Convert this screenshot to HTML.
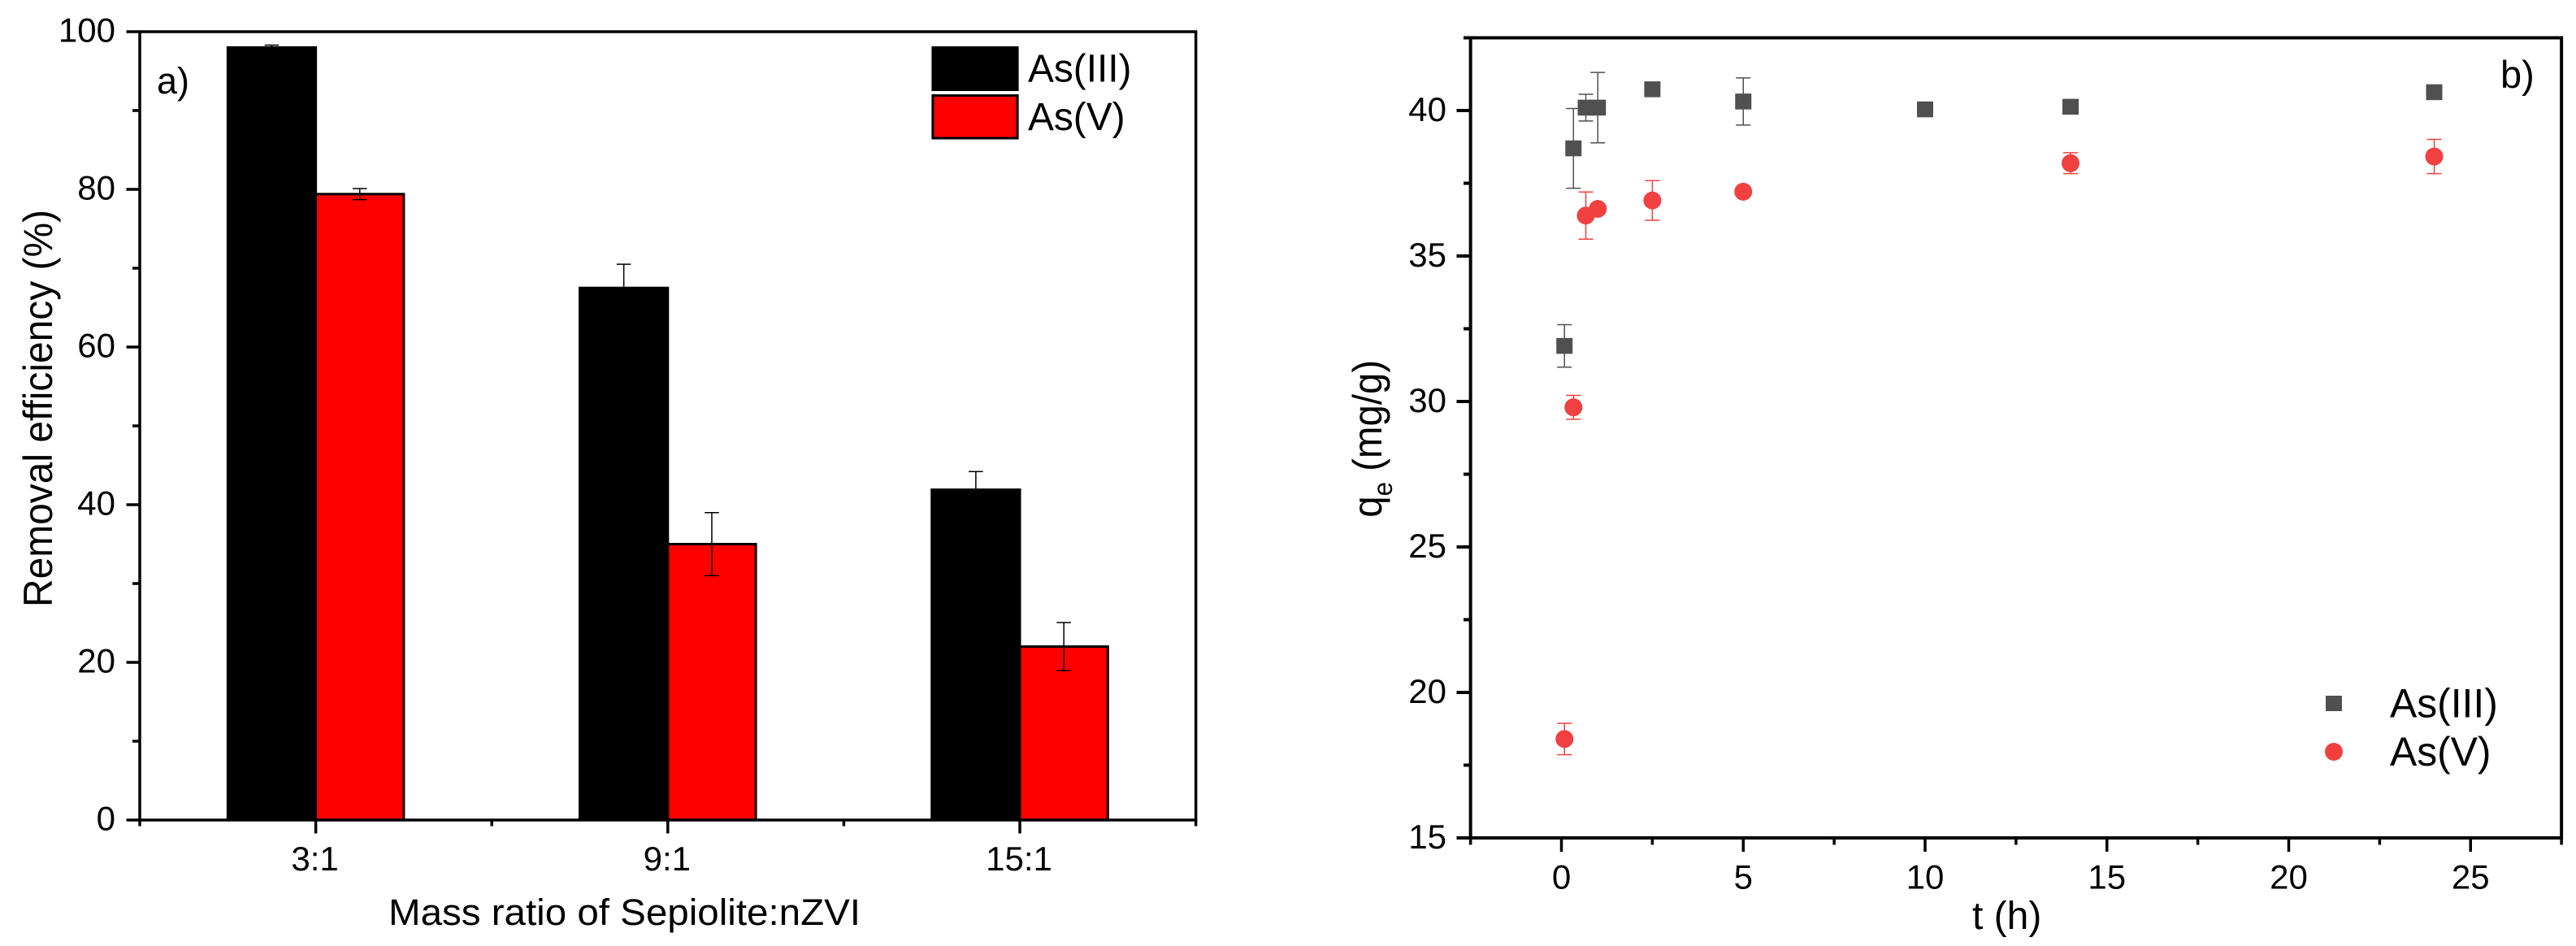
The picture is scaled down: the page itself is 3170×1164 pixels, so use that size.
<!DOCTYPE html>
<html lang="en">
<head>
<meta charset="utf-8">
<title>Arsenic removal charts</title>
<style>
html,body{margin:0;padding:0;background:#fff;}
svg{display:block;}
text{font-family:"Liberation Sans",sans-serif;fill:#000;}
</style>
</head>
<body>
<svg id="figure" xmlns="http://www.w3.org/2000/svg" width="3170" height="1164" viewBox="0 0 3170 1164">
  <rect x="0" y="0" width="3170" height="1164" fill="#fff"/>
  <g id="panelA"></g>
  <g id="panelB"></g>

  <text x="193" y="115" font-size="45">a)</text>
  <text transform="translate(64,747) rotate(-90)" font-size="50" textLength="489" lengthAdjust="spacingAndGlyphs">Removal efficiency (%)</text>
  <text x="478" y="1138" font-size="45" textLength="581" lengthAdjust="spacingAndGlyphs">Mass ratio of Sepiolite:nZVI</text>

  <g>
    <rect x="1147.9" y="58.5" width="104.2" height="52" fill="#000" stroke="#000" stroke-width="3"/>
    <rect x="1147.9" y="117.5" width="104.2" height="52.5" fill="#f00" stroke="#000" stroke-width="3"/>
    <text x="1265" y="100.5" font-size="47.8">As(III)</text>
    <text x="1265" y="160" font-size="47.8">As(V)</text>
  </g>

  <text x="3077" y="108" font-size="47">b)</text>
  <text transform="translate(1700,636.7) rotate(-90) scale(0.948,1)" font-size="50">q<tspan font-size="33" dy="13">e</tspan><tspan dy="-13"> (mg/g)</tspan></text>
  <text x="2427" y="1143" font-size="48">t (h)</text>

  <g>
    <rect x="2862" y="856" width="20" height="19" fill="#505050"/>
    <circle cx="2872" cy="925" r="11" fill="#f24040"/>
    <text x="2941" y="882.7" font-size="49.8">As(III)</text>
    <text x="2941" y="942" font-size="49.8">As(V)</text>
  </g>
</svg>
<script>
// Panel a data
const ratioCategories = ['3:1', '9:1', '15:1'];
const removalAsIII = [98, 67.5, 41.9];
const removalAsV = [79.4, 35, 22];
const removalErrAsIII = [0.3, 3, 2.3];
const removalErrAsV = [0.7, 4, 3.05];
const removalMajorTicks = [0, 20, 40, 60, 80, 100];
const removalMinorTicks = [10, 30, 50, 70, 90];

// Panel b data
const timeAsIII = [0.083, 0.33, 0.67, 1, 2.5, 5, 10, 14, 24];
const qeAsIII = [31.91, 38.7, 40.1, 40.1, 40.73, 40.31, 40.04, 40.13, 40.63];
const qeErrAsIII = [0.73, 1.37, 0.46, 1.21, 0, 0.81, 0, 0, 0];
const timeAsV = [0.083, 0.33, 0.67, 1, 2.5, 5, 14, 24];
const qeAsV = [18.4, 29.8, 36.39, 36.62, 36.91, 37.21, 38.19, 38.42];
const qeErrAsV = [0.54, 0.41, 0.81, 0, 0.68, 0, 0.36, 0.59];
const qeMajorTicks = [15, 20, 25, 30, 35, 40];
const qeMinorTicks = [17.5, 22.5, 27.5, 32.5, 37.5, 42.5];
const timeMajorTicks = [0, 5, 10, 15, 20, 25];
const timeMinorTicks = [-2.5, 2.5, 7.5, 12.5, 17.5, 22.5, 27.5];

const SVG_NS = 'http://www.w3.org/2000/svg';
function make(parent, tag, props, content) {
  const node = document.createElementNS(SVG_NS, tag);
  for (const key in props) node.setAttribute(key, props[key]);
  if (content !== undefined) node.textContent = content;
  parent.appendChild(node);
  return node;
}
function drawLine(parent, x1, y1, x2, y2, color, width) {
  return make(parent, 'line', {x1: x1, y1: y1, x2: x2, y2: y2, stroke: color, 'stroke-width': width});
}
function drawErrorBar(parent, x, yHigh, yLow, color, capHalf) {
  const grp = make(parent, 'g', {});
  drawLine(grp, x, yHigh, x, yLow, color, 1.5);
  drawLine(grp, x - capHalf, yHigh, x + capHalf, yHigh, color, 1.5);
  drawLine(grp, x - capHalf, yLow, x + capHalf, yLow, color, 1.5);
  return grp;
}

/* ---------- Panel a ---------- */
const panelA = document.getElementById('panelA');
const aLeft = 172, aRight = 1471.6, aTop = 39, aBottom = 1009, aBand = 433.2;
function xCat(i) { return aLeft + (i + 0.5) * aBand; }
function yRemoval(v) { return aBottom - v * (aBottom - aTop) / 100; }
const barWidth = aBand * 0.25;

ratioCategories.forEach(function (cat, i) {
  const cx = xCat(i);
  const blackBar = make(panelA, 'rect', {x: cx - barWidth, y: yRemoval(removalAsIII[i]), width: barWidth, height: aBottom - yRemoval(removalAsIII[i]), fill: '#000', stroke: '#000', 'stroke-width': 3});
  
  
  const redBar = make(panelA, 'rect', {x: cx, y: yRemoval(removalAsV[i]), width: barWidth, height: aBottom - yRemoval(removalAsV[i]), fill: '#f00', stroke: '#000', 'stroke-width': 3});
  
  
  const errBlack = drawErrorBar(panelA, cx - barWidth / 2, yRemoval(removalAsIII[i] + removalErrAsIII[i]), yRemoval(removalAsIII[i] - removalErrAsIII[i]), '#000', 8.8);
  
  
  const errRed = drawErrorBar(panelA, cx + barWidth / 2, yRemoval(removalAsV[i] + removalErrAsV[i]), yRemoval(removalAsV[i] - removalErrAsV[i]), '#000', 8.8);
  
  
});

const frameA = make(panelA, 'rect', {x: aLeft, y: aTop, width: aRight - aLeft, height: aBottom - aTop, fill: 'none', stroke: '#000', 'stroke-width': 3.5});



removalMajorTicks.forEach(function (v) {
  const tick = drawLine(panelA, 155.5, yRemoval(v), aLeft, yRemoval(v), '#000', 3.5);
  
  
  const label = make(panelA, 'text', {x: 142, y: yRemoval(v) + 12.5, 'font-size': 42, 'text-anchor': 'end'}, String(v));
  
  
});
removalMinorTicks.forEach(function (v) {
  const tick = drawLine(panelA, 163, yRemoval(v), aLeft, yRemoval(v), '#000', 3.5);
  
  
});
ratioCategories.forEach(function (cat, i) {
  const tick = drawLine(panelA, xCat(i), aBottom, xCat(i), 1025.5, '#000', 3.5);
  
  
  const label = make(panelA, 'text', {x: xCat(i) - 1, y: 1071, 'font-size': 42, 'text-anchor': 'middle'}, cat);
  
  
});
for (let i = 0; i <= ratioCategories.length; i++) {
  const tick = drawLine(panelA, xCat(i - 0.5), aBottom, xCat(i - 0.5), 1016.5, '#000', 3.5);
  
  
}

/* ---------- Panel b ---------- */
const panelB = document.getElementById('panelB');
function xTime(t) { return 1921.5 + t * 44.75; }
function yQe(q) { return 1031 - (q - 15) * 35.8; }
const bLeft = xTime(-2.5), bRight = xTime(27.5), bTop = yQe(42.5), bBottom = yQe(15);

const frameB = make(panelB, 'rect', {x: bLeft, y: bTop, width: bRight - bLeft, height: bBottom - bTop, fill: 'none', stroke: '#000', 'stroke-width': 4});



qeMajorTicks.forEach(function (v) {
  const tick = drawLine(panelB, 1792.5, yQe(v), bLeft, yQe(v), '#000', 4);
  
  
  const label = make(panelB, 'text', {x: 1780, y: yQe(v) + 13, 'font-size': 42, 'text-anchor': 'end'}, String(v));
  
  
});
qeMinorTicks.forEach(function (v) {
  const tick = drawLine(panelB, 1801, yQe(v), bLeft, yQe(v), '#000', 4);
  
  
});
timeMajorTicks.forEach(function (v) {
  const tick = drawLine(panelB, xTime(v), bBottom, xTime(v), 1048, '#000', 3.5);
  
  
  const label = make(panelB, 'text', {x: xTime(v), y: 1093.5, 'font-size': 42, 'text-anchor': 'middle'}, String(v));
  
  
});
timeMinorTicks.forEach(function (v) {
  const tick = drawLine(panelB, xTime(v), bBottom, xTime(v), 1039.5, '#000', 3.5);
  
  
});

timeAsIII.forEach(function (t, i) {
  if (qeErrAsIII[i] > 0) {
    const err = drawErrorBar(panelB, xTime(t), yQe(qeAsIII[i] + qeErrAsIII[i]), yQe(qeAsIII[i] - qeErrAsIII[i]), '#505050', 9);
    
    
  }
  const point = make(panelB, 'rect', {x: xTime(t) - 10, y: yQe(qeAsIII[i]) - 9.75, width: 20, height: 19.5, fill: '#505050'});
  
  
});
timeAsV.forEach(function (t, i) {
  if (qeErrAsV[i] > 0) {
    const err = drawErrorBar(panelB, xTime(t), yQe(qeAsV[i] + qeErrAsV[i]), yQe(qeAsV[i] - qeErrAsV[i]), '#f24040', 9);
    
    
  }
  const point = make(panelB, 'circle', {cx: xTime(t), cy: yQe(qeAsV[i]), r: 11, fill: '#f24040'});
  
  
});
</script>
</body>
</html>
